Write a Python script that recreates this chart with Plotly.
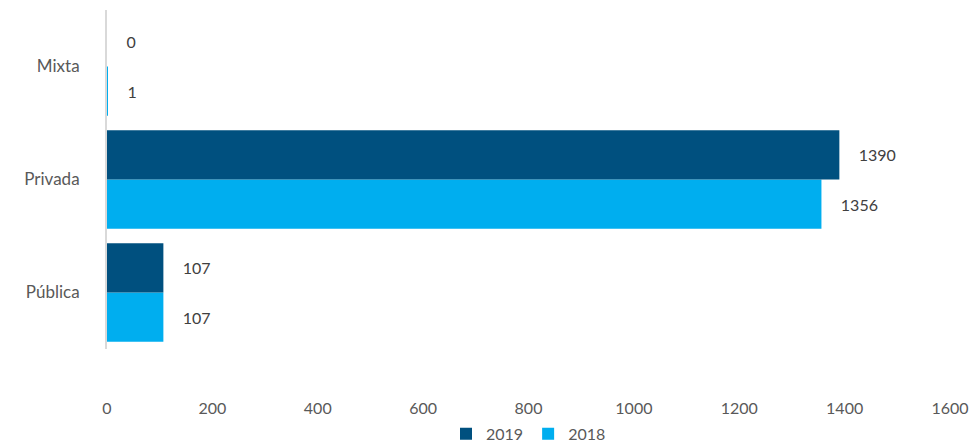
import plotly.graph_objects as go

categories = ["Pública", "Privada", "Mixta"]
values_2019 = [107, 1390, 0]
values_2018 = [107, 1356, 1]
tick_vals = [0, 200, 400, 600, 800, 1000, 1200, 1400, 1600]

font_family = "Lato, 'Open Sans', sans-serif"
pad = "    "

fig = go.Figure()
fig.add_trace(go.Bar(
    y=categories, x=values_2018, name="2018", orientation="h",
    marker=dict(color="#00AEEF", line=dict(width=0)),
    text=[pad + str(v) for v in values_2018], textposition="outside",
    textfont=dict(size=16, color="#404040", family=font_family),
    cliponaxis=False, legendrank=2,
))
fig.add_trace(go.Bar(
    y=categories, x=values_2019, name="2019", orientation="h",
    marker=dict(color="#00507F", line=dict(width=0)),
    text=[pad + str(v) for v in values_2019], textposition="outside",
    textfont=dict(size=16, color="#404040", family=font_family),
    cliponaxis=False, legendrank=1,
))

fig.update_layout(
    width=977, height=445,
    barmode="group", bargap=0.13, bargroupgap=0,
    plot_bgcolor="white", paper_bgcolor="white",
    margin=dict(l=107, r=27, t=10, b=96, autoexpand=False),
    font=dict(family=font_family, size=15, color="#595959"),
    showlegend=True,
    legend=dict(orientation="h", x=0.5, xanchor="center", y=-0.25, yanchor="middle",
                font=dict(size=16, color="#595959"), itemsizing="constant",
                itemwidth=30, traceorder="normal"),
)
fig.update_xaxes(range=[0, 1600], tickvals=tick_vals, showgrid=False, zeroline=False,
                 showline=False, ticks="", tickfont=dict(size=16, color="#595959"),
                 ticklabelstandoff=48, automargin=False)
fig.update_yaxes(showgrid=False, zeroline=False, showline=True, linecolor="#D9D9D9",
                 linewidth=2, ticks="", tickfont=dict(size=17, color="#595959"),
                 ticklabelstandoff=22, automargin=False)

fig.write_html("out.html", config={"displayModeBar": False},
               post_script="document.body.style.margin='0px';document.body.style.overflow='hidden';")
